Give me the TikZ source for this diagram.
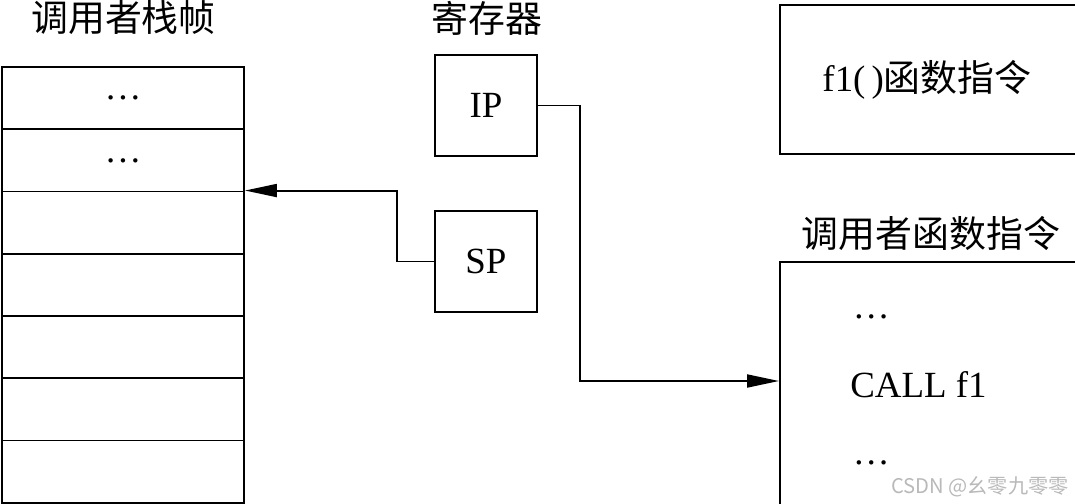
\documentclass[tikz,border=0pt]{standalone}
\usepackage{fontspec}
\setmainfont{Liberation Serif}
\newfontfamily\cjk{Noto Sans CJK SC}
\usetikzlibrary{arrows.meta}
\tikzset{
    frame/.style={draw, line width=1.1pt, inner sep=0pt},
    wire/.style={line width=1.1pt},
    cjklabel/.style={font=\fontsize{21}{25}\selectfont\cjk},
}
\begin{document}
\begin{tikzpicture}[>={Triangle[length=6.4mm, width=2.6mm]}, font=\fontsize{21}{25}\selectfont]
        \clip (0,0) rectangle (21.5,10.06);

        % Caller stack frame (left)
        \node[cjklabel] (stacktitle) at (2.47, 9.70) {调用者栈帧};
        \foreach \i in {1,...,7} {
            \node[frame, minimum width=4.84cm, minimum height=1.245cm] (cell\i) at (2.46, {8.72 - 1.245*(\i - 0.5)}) {};
        }
        \node (dots1) at (cell1.center) {\dots};
        \node (dots2) at (cell2.center) {\dots};

        % Registers (middle)
        \node[cjklabel] (regtitle) at (9.74, 9.70) {寄存器};
        \node[frame, minimum size=2.03cm] (ip) at (9.72, 7.95) {IP};
        \node[frame, minimum size=2.03cm] (sp) at (9.72, 4.83) {SP};

        % Instruction areas (right)
        \node[frame, minimum width=6.4cm, minimum height=2.98cm, anchor=north west] (f1box) at (15.58, 9.98) {};
        \node (f1text) at (18.54, 8.46) {f1(\,)\cjk 函数指令};
        \node[cjklabel] (calltitle) at (18.62, 5.40) {调用者函数指令};
        \node[frame, minimum width=6.4cm, minimum height=5.4cm, anchor=north west] (callbox) at (15.58, 4.84) {};
        \node[anchor=west, inner sep=0pt] (dotsa) at (17.05, 3.72) {\dots};
        \node[anchor=west, inner sep=0pt] (call) at (17.0, 2.36) {CALL f1};
        \node[anchor=west, inner sep=0pt] (dotsb) at (17.05, 0.80) {\dots};
        \coordinate (callin) at (15.58, 2.44);

        % Watermark
        \node[text=gray!55, font=\fontsize{11.5}{13}\selectfont\cjk] (mark) at (19.6, 0.32) {CSDN @幺零九零零};

        % Connectors
        \draw[wire, ->] (ip.east) -- ++(0.84,0) |- (callin);
        \draw[wire, ->] (sp.west) -- ++(-0.74,0) |- (cell3.north east);
    \end{tikzpicture}
\end{document}
